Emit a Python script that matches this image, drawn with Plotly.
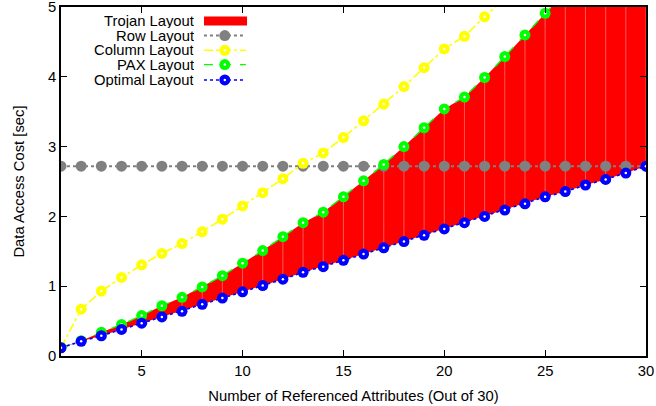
import plotly.graph_objects as go

x_attr = list(range(1, 31))

row_layout = [2.72] * 30

column_x = list(range(1, 24))
column_layout = [0.12, 0.67, 0.93, 1.125, 1.306, 1.47, 1.61, 1.78, 1.96, 2.15,
                 2.34, 2.54, 2.76, 2.91, 3.13, 3.37, 3.61, 3.86, 4.13, 4.40,
                 4.58, 4.86, 5.12]

pax_layout = [0.12, 0.22, 0.34, 0.45, 0.58, 0.72, 0.84, 0.99, 1.15, 1.33,
              1.51, 1.71, 1.91, 2.06, 2.28, 2.51, 2.745, 3.00, 3.27, 3.54,
              3.71, 3.99, 4.29, 4.60, 4.91, 5.22, 5.52, 5.83, 6.14, 6.45]

optimal_layout = [0.118, 0.21, 0.29, 0.38, 0.47, 0.56, 0.64, 0.74, 0.83, 0.92,
                  1.01, 1.10, 1.20, 1.28, 1.37, 1.46, 1.55, 1.64, 1.73, 1.82,
                  1.91, 2.00, 2.09, 2.18, 2.28, 2.355, 2.45, 2.53, 2.62, 2.72]

legend_names = ["Trojan Layout", "Row Layout", "Column Layout", "PAX Layout", "Optimal Layout"]

FONT = "Liberation Sans, Arial, Helvetica, sans-serif"
FS = 14.8
RED = "#ff0000"
GRAY = "#808080"
YELLOW = "#ffff00"
GREEN = "#00ff00"
BLUE = "#0000ff"

fig = go.Figure()

# Trojan fill between optimal and PAX
fig.add_trace(go.Scatter(x=x_attr, y=optimal_layout, mode="lines",
                         line=dict(width=0, color=RED), showlegend=False, hoverinfo="skip"))
fig.add_trace(go.Scatter(x=x_attr, y=pax_layout, mode="lines", fill="tonexty",
                         fillcolor=RED, line=dict(width=0, color=RED),
                         showlegend=False, hoverinfo="skip"))
# faint vertical seams of the filled curve
vx, vy = [], []
for xi, lo, hi in zip(x_attr, optimal_layout, pax_layout):
    vx += [xi, xi, None]
    vy += [lo, hi, None]
fig.add_trace(go.Scatter(x=vx, y=vy, mode="lines",
                         line=dict(width=1, color="rgba(255,95,95,0.9)"),
                         showlegend=False, hoverinfo="skip"))

def series(xs, ys, color, dash, width, msize, dot=True):
    fig.add_trace(go.Scatter(x=xs, y=ys, mode="lines+markers",
                             line=dict(color=color, width=width, dash=dash),
                             marker=dict(color=color, size=msize, line=dict(width=0)),
                             showlegend=False, hoverinfo="skip", cliponaxis=True))
    if dot:
        fig.add_trace(go.Scatter(x=xs, y=ys, mode="markers",
                                 marker=dict(color="white", size=2.5, line=dict(width=0)),
                                 showlegend=False, hoverinfo="skip", cliponaxis=True))

series(x_attr, row_layout, GRAY, "dot", 2, 11, dot=False)
series(column_x, column_layout, YELLOW, "dashdot", 1.6, 11)
series(x_attr, pax_layout, GREEN, "dash", 1.4, 11)
series(x_attr, optimal_layout, BLUE, "dot", 1.6, 11)

# ---- manual legend (gnuplot style: text right, key sample on the right) ----
row_y = [0.960, 0.918, 0.876, 0.835, 0.791]
lx0, lx1, lxm, ltext = 0.2444, 0.316, 0.280, 0.229
styles = [None,
          (GRAY, "dot", 2, 11, False),
          (YELLOW, "dashdot", 1.6, 11, True),
          (GREEN, "dash", 1.4, 11, True),
          (BLUE, "dot", 1.6, 11, True)]
for name, yy, st in zip(legend_names, row_y, styles):
    fig.add_annotation(x=ltext, y=yy, xref="paper", yref="paper", text=name,
                       showarrow=False, xanchor="right", yanchor="middle",
                       font=dict(family=FONT, size=FS, color="black"),
                       borderpad=0, height=14)
    if st is None:
        fig.add_shape(type="rect", xref="paper", yref="paper",
                      x0=lx0, x1=0.318, y0=yy - 0.013, y1=yy + 0.013,
                      fillcolor=RED, line=dict(width=0))
    else:
        c, d, w, ms, dot = st
        fig.add_trace(go.Scatter(x=[lx0, lx1], y=[yy, yy], mode="lines",
                                 line=dict(color=c, width=w, dash=d),
                                 xaxis="x2", yaxis="y2", showlegend=False, hoverinfo="skip"))
        fig.add_trace(go.Scatter(x=[lxm], y=[yy], mode="markers",
                                 marker=dict(color=c, size=ms, line=dict(width=0)),
                                 xaxis="x2", yaxis="y2", showlegend=False, hoverinfo="skip"))
        if dot:
            fig.add_trace(go.Scatter(x=[lxm], y=[yy], mode="markers",
                                     marker=dict(color="white", size=2.5, line=dict(width=0)),
                                     xaxis="x2", yaxis="y2", showlegend=False, hoverinfo="skip"))

axis_common = dict(showgrid=False, zeroline=False, showline=True, linecolor="black",
                   linewidth=1.5, mirror="ticks", ticks="inside", ticklen=6,
                   tickcolor="black", tickwidth=1, ticklabeloverflow="allow",
                   automargin=False,
                   tickfont=dict(family=FONT, size=FS, color="black"))

fig.update_layout(
    width=656, height=406,
    margin=dict(l=61, r=10, t=7, b=50, autoexpand=False),
    paper_bgcolor="white", plot_bgcolor="white",
    showlegend=False,
    xaxis=dict(range=[1, 30], tickvals=[5, 10, 15, 20, 25, 30],
               title=dict(text="Number of Referenced Attributes (Out of 30)",
                          font=dict(family=FONT, size=FS, color="black"), standoff=13),
               **axis_common),
    yaxis=dict(range=[0, 5], tickvals=[0, 1, 2, 3, 4, 5],
               title=dict(text="Data Access Cost [sec]",
                          font=dict(family=FONT, size=FS, color="black"), standoff=20),
               **axis_common),
    xaxis2=dict(range=[0, 1], overlaying="x", visible=False, domain=[0, 1]),
    yaxis2=dict(range=[0, 1], overlaying="y", visible=False, domain=[0, 1]),
)

fig.write_html("out.html")
